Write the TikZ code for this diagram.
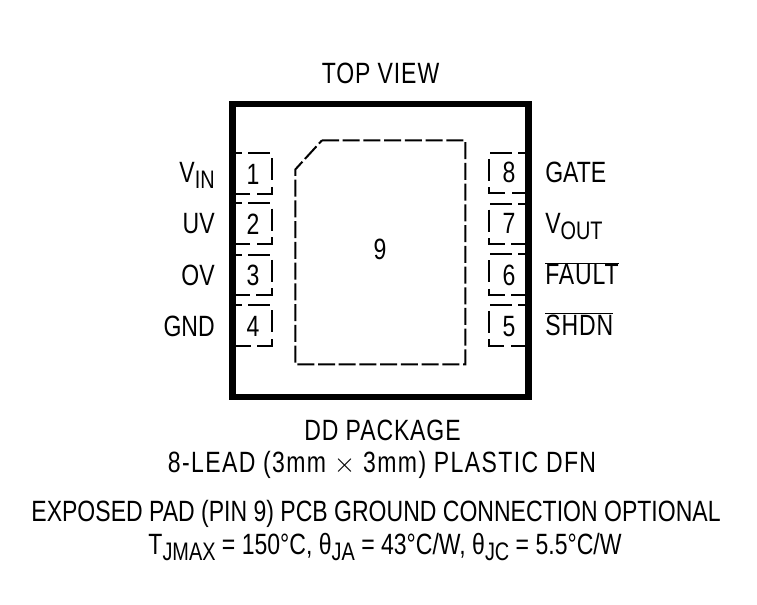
\documentclass[tikz,border=0pt]{standalone}
\usepackage{fontspec}
\setmainfont{Liberation Sans}[FakeStretch=0.785]
\newcommand{\lowsub}[1]{\raisebox{-4.5pt}{\fontsize{19}{19}\selectfont #1}}
\tikzset{
    body/.style={line width=4.875pt,line join=miter},
    pad/.style={line width=1.5pt,dash pattern=on 12.75pt off 2.8pt},
    pin/.style={line width=1.5pt,dash pattern=on 16.5pt off 4.95pt,dash phase=11.5pt},
    txt/.style={inner sep=0pt,font=\fontsize{22}{24}\selectfont},
    wide/.style={inner sep=0pt,font=\fontsize{22}{24}\selectfont\addfontfeature{LetterSpace=3}},
    wider/.style={inner sep=0pt,font=\fontsize{22}{24}\selectfont\addfontfeature{LetterSpace=4.7}},
}
\begin{document}
\begin{tikzpicture}[x=0.75pt,y=0.75pt,yscale=-1,xscale=1]
        \useasboundingbox (0,0) rectangle (757,605);
        \draw [body]  (232.5,104) -- (528.5,104) -- (528.5,397) -- (232.5,397) -- cycle ;
        \draw [pad]  (322,140.3) -- (465.3,140.3) -- (465.3,364.3) -- (295.3,364.3) -- (295.3,169.5) -- cycle ;

        \draw [pin]  (235,153) -- (271.7,153) -- (271.7,193.7) -- (235,193.7) ;
        \draw [pin]  (235,203.5) -- (271.7,203.5) -- (271.7,244.3) -- (235,244.3) ;
        \draw [pin]  (235,254.7) -- (271.7,254.7) -- (271.7,295) -- (235,295) ;
        \draw [pin]  (235,305.3) -- (271.7,305.3) -- (271.7,346.5) -- (235,346.5) ;
        \draw [pin]  (525,153) -- (489,153) -- (489,193) -- (525,193) ;
        \draw [pin]  (525,203.7) -- (489,203.7) -- (489,244.3) -- (525,244.3) ;
        \draw [pin]  (525,254.3) -- (489,254.3) -- (489,295) -- (525,295) ;
        \draw [pin]  (525,305) -- (489,305) -- (489,346) -- (525,346) ;

        \node (topview) [wide,anchor=base] at (380.5,83.5) {TOP VIEW};
        \node (num1) [txt,anchor=base] at (253,184.5) {1};
        \node (num2) [txt,anchor=base] at (253,235) {2};
        \node (num3) [txt,anchor=base] at (253,286) {3};
        \node (num4) [txt,anchor=base] at (253,337) {4};
        \node (num8) [txt,anchor=base] at (509,183) {8};
        \node (num7) [txt,anchor=base] at (509,234) {7};
        \node (num6) [txt,anchor=base] at (509,285.5) {6};
        \node (num5) [txt,anchor=base] at (509,337) {5};
        \node (num9) [txt,anchor=base] at (380,260) {9};
        \node (vin) [txt,anchor=base east] at (215,183) {V\lowsub{IN}};
        \node (uv) [txt,anchor=base east] at (215,234) {UV};
        \node (ov) [txt,anchor=base east] at (215,285.5) {OV};
        \node (gnd) [txt,anchor=base east] at (215,336.5) {GND};
        \node (gate) [txt,anchor=base west] at (545,183) {GATE};
        \node (vout) [txt,anchor=base west] at (545,233.5) {V\lowsub{OUT}};
        \node (fault) [wide,anchor=base west] at (545,285) {$\overline{\mbox{FAULT}}$};
        \node (shdn) [wide,anchor=base west] at (545,336) {$\overline{\mbox{SHDN}}$};
        \node (pkgname) [wide,anchor=base] at (382.5,441) {DD PACKAGE};
        \node (pkgsize) [wider,anchor=base] at (382,473) {8-LEAD (3mm $\times$ 3mm) PLASTIC DFN};
        \node (padnote) [txt,anchor=base] at (376,521.5) {EXPOSED PAD (PIN 9) PCB GROUND CONNECTION OPTIONAL};
        \node (thermal) [txt,anchor=base] at (385,555) {T\lowsub{JMAX} = 150°C, θ\lowsub{JA} = 43°C/W, θ\lowsub{JC} = 5.5°C/W};
\end{tikzpicture}
\end{document}
